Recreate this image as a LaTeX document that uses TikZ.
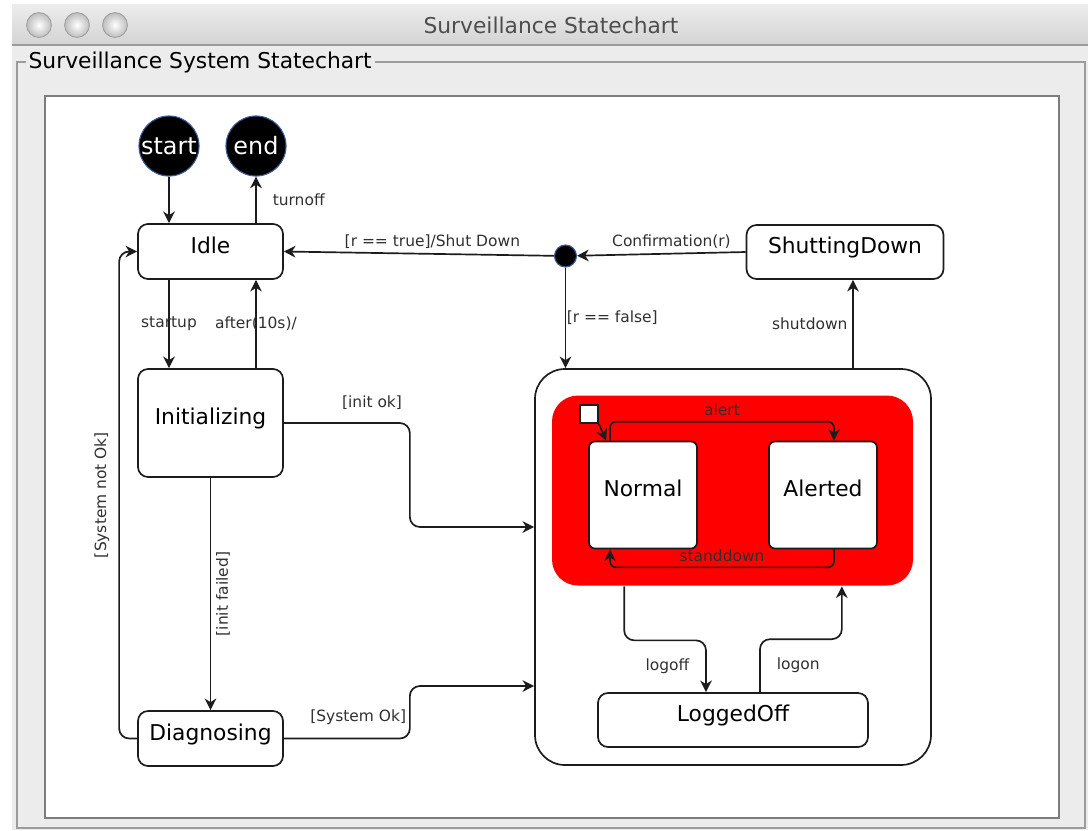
\documentclass[tikz,border=0pt]{standalone}
\usepackage{fontspec}
\setmainfont{DejaVu Sans}
\usetikzlibrary{arrows.meta, positioning, calc}
\definecolor{cwin}{HTML}{ECECEC}
\definecolor{cbartop}{HTML}{EDEDED}
\definecolor{cbarbot}{HTML}{D3D3D3}
\definecolor{cframe}{HTML}{9C9C9C}
\definecolor{cdot}{HTML}{BDBDBD}
\definecolor{cline}{HTML}{1C1C1C}
\definecolor{ctext}{HTML}{303030}
\definecolor{cgreytext}{HTML}{4D4D4D}
\definecolor{cring}{HTML}{3D5A99}
\definecolor{cred}{HTML}{FF0000}
\tikzset{
  every picture/.style={line width=1.2pt},
  state/.style={draw=cline, fill=white, rounded corners=#1, align=center, inner sep=2pt,
    font=\fontsize{15.5}{18}\selectfont, text height=0.75em, text depth=0.49em},
  state/.default=2.5mm,
  pseudo/.style={circle, fill=black, draw=cring, line width=0.8pt, text=white, inner sep=0pt,
    minimum size=#1},
  pseudo/.default=15mm,
  arrow/.style={-{Stealth[length=2.9mm, width=2.9mm, inset=0.9mm]}, draw=cline, line width=1.2pt},
  flow/.style={arrow, rounded corners=#1},
  flow/.default=2.5mm,
  wintitle/.style={font=\fontsize{15.5}{18}\selectfont, text=cgreytext},
}

\begin{document}
\begin{tikzpicture}[x=0.25mm, y=-0.25mm, lab/.style={font=\fontsize{11}{13}\selectfont, text=ctext}]
  \useasboundingbox (0,0) rectangle (1088,830);
  \fill[white] (0,0) rectangle (1088,830);
  \fill[cwin] (12,4) rectangle (1088,830);
  \shade[top color=cbartop, bottom color=cbarbot] (12,4) rectangle (1088,45);
  \draw[cframe, line width=1pt] (12,45) -- (1088,45);
  \foreach \x in {39,77,115}
    \shadedraw[inner color=white, outer color=cdot, draw=cframe, line width=0.6pt] (\x,25) circle (3.1mm);
  \node[wintitle] (wtitle) at (551,25) {Surveillance Statechart};
  \draw[cframe, line width=1pt] (17,62) rectangle (1085,828);
  \node[wintitle, text=black, fill=cwin, anchor=west, inner sep=2pt] (gtitle) at (25,62) {Surveillance System Statechart};
  \filldraw[fill=white, draw=cframe!80!black, line width=1pt] (45,96) rectangle (1059,818);

  \node[pseudo, font=\fontsize{17}{20}\selectfont] (start) at (169,146) {start};
  \node[pseudo, font=\fontsize{17}{20}\selectfont] (stop) at (256,146) {end};
  \node[state, minimum width=36.25mm, minimum height=13.75mm] (idle) at (210.5,251.5) {Idle};
  \node[state, minimum width=36.25mm, minimum height=27mm] (init) at (210.5,423) {Initializing};
  \node[state, minimum width=36.25mm, minimum height=13.75mm] (diag) at (210.5,738.5) {Diagnosing};
  \node[state, minimum width=49.25mm, minimum height=13.5mm] (sd) at (845,252) {ShuttingDown};
  \node[pseudo=5.5mm] (junc) at (565.5,256) {};
  \node[state=7.5mm, minimum width=99mm, minimum height=99mm] (comp) at (733,567) {};
  \node[fill=cred, rounded corners=6.5mm, minimum width=90.25mm, minimum height=47.5mm] (red) at (732.5,490.5) {};
  \node[draw=cline, fill=white, minimum size=4.5mm, inner sep=0pt] (sq) at (589,414) {};
  \node[state=1.5mm, minimum width=27mm, minimum height=26.75mm] (normal) at (643,495) {Normal};
  \node[state=1.5mm, minimum width=27mm, minimum height=26.75mm] (alerted) at (823,495) {Alerted};
  \node[state, minimum width=67.5mm, minimum height=13.5mm] (logged) at (733,720) {LoggedOff};
  \coordinate (sdin) at ([xshift=2mm]sd.south);

  \draw[arrow] (start) -- (start |- idle.north);
  \draw[arrow] (stop |- idle.north) -- node[lab, right=8pt] {turnoff} (stop);
  \draw[arrow] (idle.south -| start) -- node[lab] {startup} (init.north -| start);
  \draw[arrow] (init.north -| stop) -- node[lab] {after(10s)/} (idle.south -| stop);
  \draw[arrow] (junc) -- node[lab, above, pos=0.45] {[r == true]/Shut Down} (idle.east);
  \draw[arrow] (sd.west) -- node[lab, above, pos=0.44] {Confirmation(r)} (junc);
  \draw[arrow] (junc) -- node[lab, right=-3pt] {[r == false]} (junc |- comp.north);
  \draw[arrow] (sdin |- comp.north) -- node[lab, left] {shutdown} (sdin);
  \draw[flow] (init.east) -- node[lab, above=6pt, pos=0.7] {[init ok]} ++(126,0) |- ([yshift=10mm]comp.west);
  \draw[arrow] (init.south) -- node[lab, rotate=90, anchor=north] {[init failed]} (diag.north);
  \draw[flow] (diag.east) -- node[lab, above=6pt, pos=0.59] {[System Ok]} ++(126,0) |- ([yshift=-29.75mm]comp.west);
  \draw[flow] (diag.west) -- ++(-18,0) |- node[lab, xshift=-3pt, rotate=90, anchor=south, pos=0.25] {[System not Ok]} (idle.west);
  \draw[arrow] (sq.south east) -- ([xshift=4.5mm]normal.north west);
  \draw[flow=1.5mm] ([xshift=-8.25mm]normal.north) -- ++(0,-19) -| node[lab, above, pos=0.25] {alert} ([xshift=2.75mm]alerted.north);
  \draw[flow=1.5mm] ([xshift=2.75mm]alerted.south) -- ++(0,18) -| node[lab, above, pos=0.25] {standdown} ([xshift=-8.25mm]normal.south);
  \draw[flow] ([xshift=18.25mm]red.south west) -- ++(0,54) -| node[lab, left=8pt, pos=0.75] {logoff} ([xshift=-6.75mm]logged.north);
  \draw[flow] ([xshift=6.75mm]logged.north) -- node[lab, right=8pt] {logon} ++(0,-53) -| ([xshift=-18mm]red.south east);
\end{tikzpicture}
\end{document}
